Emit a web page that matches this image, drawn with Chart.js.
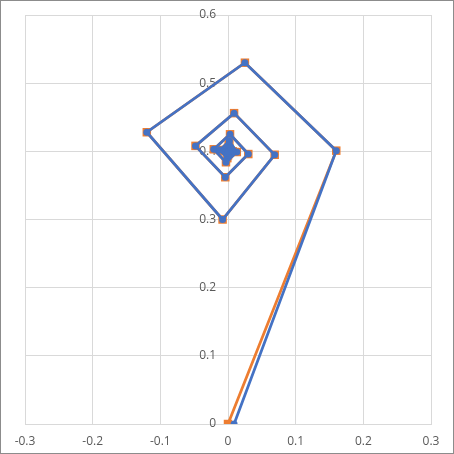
<!doctype html>
<html>
  <head>
    <script src="https://cdn.jsdelivr.net/npm/chart.js@4.4.0/dist/chart.umd.min.js"></script>
    <style>
      body { margin: 0; background: #fff; }
      #box { width: 452px; height: 452px; border: 1px solid #8c8c8c; }
    </style>
    <script>
      // orange series (squares)
      let orangeX = [0, 0.160, 0.025, -0.120, -0.008, 0.069, 0.009, -0.048, -0.004, 0.030, 0.003, -0.021, -0.003, 0.013, 0.002, -0.012, -0.001, 0.007, 0.001, -0.006, 0.000, 0.003, 0.000, -0.003, 0.000, 0.001];
      let orangeY = [0, 0.401, 0.530, 0.428, 0.300, 0.395, 0.456, 0.408, 0.362, 0.396, 0.425, 0.403, 0.384, 0.399, 0.415, 0.402, 0.390, 0.400, 0.409, 0.401, 0.394, 0.400, 0.405, 0.400, 0.397, 0.400];
      // blue series (circles)
      let blueX = [0.009, 0.160, 0.025, -0.120, -0.008, 0.069, 0.009, -0.048, -0.004, 0.030, 0.003, -0.021, -0.003, 0.013, 0.002, -0.012, -0.001, 0.007, 0.001, -0.006, 0.000, 0.003, 0.000, -0.003, 0.000, 0.001];
      let blueY = [0, 0.401, 0.530, 0.428, 0.300, 0.395, 0.456, 0.408, 0.362, 0.396, 0.425, 0.403, 0.384, 0.399, 0.415, 0.402, 0.390, 0.400, 0.409, 0.401, 0.394, 0.400, 0.405, 0.400, 0.397, 0.400];

      function toPoints(xs, ys) {
        return xs.map((x, i) => ({ x: x, y: ys[i] }));
      }

      function startPage() {
        let tickFont = { family: "'Open Sans', 'Noto Sans', sans-serif", size: 12 };
        new Chart(document.getElementById("c1"), {
          type: 'scatter',
          data: {
            // first dataset is drawn on top
            datasets: [{
              label: 'blue',
              data: toPoints(blueX, blueY),
              showLine: true,
              borderColor: '#4472C4',
              backgroundColor: '#4472C4',
              borderWidth: 2.75,
              pointStyle: 'circle',
              pointRadius: 3.5,
              pointBorderWidth: 0
            }, {
              label: 'orange',
              data: toPoints(orangeX, orangeY),
              showLine: true,
              borderColor: '#ED7D31',
              backgroundColor: '#ED7D31',
              borderWidth: 2.75,
              pointStyle: 'rect',
              pointRadius: 6,
              pointBorderWidth: 0
            }]
          },
          options: {
            responsive: false,
            animation: false,
            layout: { padding: { left: 24, right: 22, top: 14, bottom: 29 } },
            plugins: { legend: { display: false }, tooltip: { enabled: false } },
            scales: {
              x: {
                type: 'linear',
                position: { y: 0 },
                min: -0.3, max: 0.3,
                ticks: { stepSize: 0.1, color: '#595959', font: tickFont, padding: 10 },
                grid: { color: '#d9d9d9', drawTicks: false },
                border: { color: '#d9d9d9' }
              },
              y: {
                type: 'linear',
                position: { x: 0 },
                min: 0, max: 0.6,
                ticks: {
                  stepSize: 0.1, color: '#595959', font: tickFont,
                  // labels are right-aligned on the axis line, pad them off it
                  callback: (v) => Number(v.toFixed(1)) + '\u2002\u2002'
                },
                grid: { color: '#d9d9d9', drawTicks: false },
                border: { color: '#d9d9d9' }
              }
            }
          }
        });
      }
    </script>
  </head>
  <body onload="startPage()">
    <div id="box">
      <canvas id="c1" width="452" height="452"></canvas>
    </div>
  </body>
</html>
